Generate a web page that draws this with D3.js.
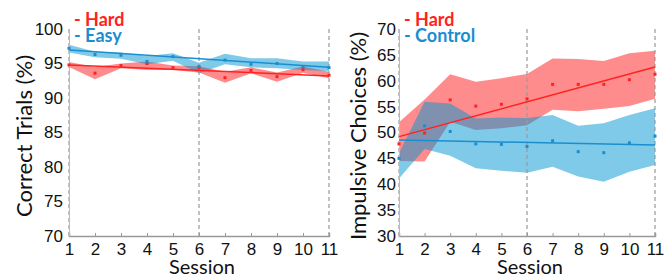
<!DOCTYPE html>
<html>
<head>
<meta charset="utf-8">
<script src="https://cdn.jsdelivr.net/npm/d3@7"></script>
<style>
  body { margin: 0; background: #fff; }
  svg { display: block; }
</style>
</head>
<body>
<svg id="chart" width="667" height="279"></svg>
<script>
// sessions on the x axis
const SESSIONS = [1, 2, 3, 4, 5, 6, 7, 8, 9, 10, 11];
const DASHED_SESSIONS = [1, 6, 11];

// left panel: correct trials (%)
const LEFT_TICKS = [70, 75, 80, 85, 90, 95, 100];
const hardCorrect      = [94.8, 93.6, 94.7, 95.0, 94.4, 94.4, 92.95, 94.0, 93.1, 94.1, 93.3];
const hardCorrectHi    = [95.2, 94.5, 95.0, 95.3, 94.7, 94.6, 93.8, 94.45, 93.7, 94.55, 93.8];
const hardCorrectLo    = [94.5, 92.7, 94.3, 94.05, 94.05, 93.7, 92.2, 93.6, 92.35, 93.65, 92.85];
const hardCorrectFit   = [94.8, 93.2];
const easyCorrect      = [97.2, 96.3, 96.2, 95.3, 96.0, 94.55, 95.5, 94.9, 95.0, 94.55, 94.4];
const easyCorrectHi    = [97.7, 96.7, 96.6, 96.1, 96.5, 95.1, 96.4, 95.75, 95.75, 95.3, 95.3];
const easyCorrectLo    = [96.6, 95.9, 95.7, 94.9, 95.4, 93.6, 94.9, 94.45, 94.3, 94.05, 93.9];
const easyCorrectFit   = [96.95, 94.45];

// right panel: impulsive choices (%)
const RIGHT_TICKS = [30, 35, 40, 45, 50, 55, 60, 65, 70];
const hardImpulsive    = [47.8, 49.9, 56.3, 55.1, 55.45, 56.5, 59.3, 59.3, 59.3, 60.2, 61.25];
const hardImpulsiveHi  = [52.0, 56.4, 61.25, 59.8, 60.5, 61.3, 64.3, 64.2, 63.8, 65.3, 65.8];
const hardImpulsiveLo  = [44.5, 44.4, 52.1, 50.5, 50.8, 51.4, 54.4, 54.1, 54.6, 55.1, 56.5];
const hardImpulsiveFit = [49.2, 62.65];
const ctrlImpulsive    = [45.0, 51.3, 50.2, 47.8, 47.7, 47.3, 48.4, 46.3, 46.1, 48.0, 49.3];
const ctrlImpulsiveHi  = [46.0, 55.95, 55.6, 52.7, 52.9, 52.8, 53.4, 51.3, 51.8, 53.4, 54.7];
const ctrlImpulsiveLo  = [41.1, 46.8, 45.5, 43.1, 42.6, 42.2, 43.4, 41.5, 40.5, 42.4, 43.7];
const ctrlImpulsiveFit = [48.55, 47.6];

const RED = "#ff2222", BLUE = "#1b8ed0";
const RED_BAND = "rgb(255,26,26)", BLUE_BAND = "rgb(0,150,210)";
const svg = d3.select("#chart");

function drawPanel(p) {
    const x = d3.scaleLinear().domain([1, 11]).range([p.x0, p.x1]);
    const y = d3.scaleLinear().domain(p.domain).range([236, 29]);
    const g = svg.append("g");

    const band = (hi, lo) => d3.area()
        .x((d, i) => x(SESSIONS[i])).y0((d, i) => y(lo[i])).y1((d, i) => y(hi[i]))(hi);

    // red band first, blue over it -> mauve overlap
    p.series.forEach(s => {
        g.append("path").attr("d", band(s.hi, s.lo))
            .attr("fill", s.band).attr("fill-opacity", 0.5);
    });

    // dashed session markers
    g.selectAll("line.dash").data(DASHED_SESSIONS).enter().append("line")
        .attr("x1", d => x(d)).attr("x2", d => x(d))
        .attr("y1", 29).attr("y2", 236)
        .attr("stroke", "#999").attr("stroke-width", 1.2).attr("stroke-dasharray", "4,3");

    // x axis
    const xAx = g.append("g").attr("transform", "translate(0,236)")
        .call(d3.axisBottom(x).tickValues(SESSIONS).tickSize(-3).tickPadding(7).tickFormat(d3.format("d")));
    xAx.selectAll("text").attr("font-family", "Liberation Sans, Arial, sans-serif")
        .attr("font-size", 17).attr("fill", "#111");
    xAx.selectAll("line").attr("stroke", "#999");
    xAx.select(".domain").attr("stroke", "#999").attr("stroke-width", 1.5);

    // y axis
    const yAx = g.append("g").attr("transform", `translate(${p.x0},0)`)
        .call(d3.axisLeft(y).tickValues(p.ticks).tickSize(0).tickPadding(p.pad));
    yAx.selectAll("text").attr("font-family", "Liberation Sans, Arial, sans-serif")
        .attr("font-size", 17).attr("fill", "#111");
    yAx.select(".domain").attr("stroke", "#bbb");

    // fit lines and points
    p.series.forEach(s => {
        g.append("line")
            .attr("x1", x(1)).attr("y1", y(s.fit[0]))
            .attr("x2", x(11)).attr("y2", y(s.fit[1]))
            .attr("stroke", s.color).attr("stroke-width", 1.5);
        g.selectAll(null).data(s.mean).enter().append("rect")
            .attr("x", (d, i) => x(SESSIONS[i]) - 1.5).attr("y", d => y(d) - 1.5)
            .attr("width", 3).attr("height", 3).attr("fill", s.color);
    });

    // axis titles
    g.append("text").attr("x", (p.x0 + p.x1) / 2 + 3).attr("y", 274)
        .attr("text-anchor", "middle").attr("font-family", "Lato, sans-serif")
        .attr("font-size", 20).attr("fill", "#111").text("Session");
    g.append("text")
        .attr("transform", `translate(${p.labelX},136) rotate(-90)`)
        .attr("text-anchor", "middle").attr("font-family", "Lato, sans-serif")
        .attr("font-size", 22).attr("fill", "#111").text(p.label);

    // legend: Hard on top
    p.series.forEach((s, i) => {
        g.append("text").attr("x", p.x0 + 5).attr("y", 26 + i * 16)
            .attr("font-family", "Lato, sans-serif").attr("font-weight", 700)
            .attr("font-size", 18).attr("fill", s.color).text("- " + s.name);
    });
}

drawPanel({
    x0: 69, x1: 329, domain: [70, 100], ticks: LEFT_TICKS, pad: 6,
    labelX: 32, label: "Correct Trials (%)",
    series: [
        { name: "Hard", color: RED, band: RED_BAND, mean: hardCorrect, hi: hardCorrectHi, lo: hardCorrectLo, fit: hardCorrectFit },
        { name: "Easy", color: BLUE, band: BLUE_BAND, mean: easyCorrect, hi: easyCorrectHi, lo: easyCorrectLo, fit: easyCorrectFit }
    ]
});

drawPanel({
    x0: 399, x1: 655, domain: [30, 70], ticks: RIGHT_TICKS, pad: 3,
    labelX: 366, label: "Impulsive Choices (%)",
    series: [
        { name: "Hard", color: RED, band: RED_BAND, mean: hardImpulsive, hi: hardImpulsiveHi, lo: hardImpulsiveLo, fit: hardImpulsiveFit },
        { name: "Control", color: BLUE, band: BLUE_BAND, mean: ctrlImpulsive, hi: ctrlImpulsiveHi, lo: ctrlImpulsiveLo, fit: ctrlImpulsiveFit }
    ]
});
</script>
</body>
</html>
